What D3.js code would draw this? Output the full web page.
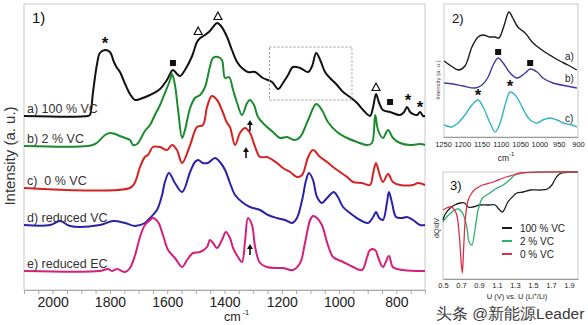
<!DOCTYPE html>
<html><head><meta charset="utf-8">
<script src="https://cdn.jsdelivr.net/npm/d3@7"></script>
<style>body{margin:0;background:#fff}svg{display:block}text{font-family:"Liberation Sans",Arial,sans-serif}</style>
</head><body><svg id="c" width="588" height="325"></svg>
<script>
// ---------- Panel 1: IR spectra (wavenumber cm-1, intensity a.u. incl. offset) ----------
const mainTicks = [2000, 1800, 1600, 1400, 1200, 1000, 800];
const mainLabels = ["a) 100 % VC", "b) 2 % VC", "c)  0 % VC", "d) reduced VC", "e) reduced EC"];
const spectrumA = [[2100,174],[1877,174],[1870,175],[1859,198],[1845,226],[1835,237],[1817,240],[1800,238],[1786,228],[1775,222],[1765,218],[1747,206],[1730,196],[1712,190],[1695,191],[1660,195],[1625,201],[1601,210],[1580,220],[1566,216],[1555,214],[1538,220],[1513,234],[1496,248],[1485,252],[1468,255],[1451,259],[1437,264],[1426,267],[1412,264],[1391,253],[1374,240],[1356,228],[1339,222],[1318,218],[1293,218],[1266,212],[1234,208],[1213,201],[1196,207],[1178,215],[1161,223],[1136,222],[1108,218],[1094,224],[1080,237],[1066,230],[1049,218],[1032,212],[1007,205],[986,198],[962,193],[937,187],[916,180],[892,174],[881,183],[871,196],[860,187],[847,180],[822,178],[787,175],[773,178],[763,183],[752,178],[742,176],[728,175],[717,178],[707,174],[700,174]];
const spectrumB = [[2100,144],[1877,144],[1852,146],[1835,150],[1817,155],[1800,157],[1782,156],[1765,154],[1747,152],[1730,150],[1719,145],[1705,146],[1695,150],[1678,159],[1660,165],[1643,175],[1625,185],[1608,197],[1590,210],[1583,216],[1573,205],[1562,180],[1548,152],[1538,160],[1520,182],[1503,192],[1485,195],[1468,203],[1451,223],[1440,232],[1423,233],[1409,230],[1398,212],[1384,213],[1370,200],[1356,187],[1339,175],[1321,187],[1311,190],[1297,185],[1283,173],[1259,165],[1231,158],[1206,152],[1182,153],[1154,150],[1136,153],[1108,170],[1080,186],[1060,180],[1039,168],[1007,158],[972,152],[937,148],[902,145],[885,147],[874,175],[864,160],[847,152],[829,160],[812,152],[787,147],[752,145],[717,146],[700,145]];
const spectrumC = [[2100,102],[1730,102],[1712,108],[1695,123],[1678,133],[1667,135],[1650,143],[1625,143],[1601,140],[1583,145],[1566,140],[1548,127],[1520,145],[1496,163],[1475,165],[1461,183],[1444,194],[1426,190],[1409,180],[1391,167],[1381,163],[1363,145],[1346,157],[1328,162],[1311,157],[1293,143],[1276,133],[1252,133],[1217,127],[1196,122],[1171,118],[1147,113],[1129,115],[1108,133],[1091,140],[1066,133],[1042,128],[1021,123],[997,118],[972,113],[951,108],[920,107],[892,105],[881,117],[871,127],[860,117],[847,108],[829,116],[812,108],[787,105],[742,105],[724,107],[700,105]];
const spectrumD = [[2100,65],[2009,65],[1974,69],[1939,64],[1835,65],[1789,69],[1747,67],[1712,64],[1678,67],[1660,72],[1636,80],[1618,95],[1608,108],[1594,117],[1573,107],[1548,98],[1520,118],[1503,128],[1492,130],[1475,127],[1458,127],[1433,132],[1416,128],[1398,120],[1381,107],[1363,95],[1339,88],[1311,83],[1276,80],[1248,75],[1217,72],[1189,70],[1164,67],[1147,72],[1129,90],[1115,110],[1105,117],[1091,110],[1077,93],[1060,87],[1042,92],[1025,97],[1018,98],[1004,93],[986,83],[962,77],[927,70],[899,67],[881,73],[871,78],[860,72],[847,70],[833,87],[826,98],[815,87],[801,73],[780,72],[763,73],[742,70],[717,65],[700,65]];
const spectrumE = [[2100,19],[1835,19],[1807,21],[1793,19],[1775,21],[1747,18],[1730,22],[1712,35],[1695,53],[1678,65],[1660,70],[1650,72],[1632,68],[1615,55],[1597,40],[1573,32],[1548,23],[1531,30],[1510,37],[1485,38],[1461,43],[1451,50],[1440,47],[1426,42],[1409,50],[1395,58],[1381,52],[1370,42],[1353,33],[1339,28],[1328,50],[1318,72],[1304,65],[1293,43],[1276,27],[1252,23],[1217,22],[1196,22],[1161,20],[1136,27],[1119,47],[1101,70],[1091,74],[1077,72],[1060,65],[1039,45],[1021,33],[986,28],[951,23],[920,20],[902,33],[892,40],[874,40],[864,33],[847,23],[826,34],[812,23],[777,20],[700,19]];
// peak markers on panel 1: [wavenumber, intensity, symbol]
const mainMarks = [[1817,247,"*"],[1580,227,"sq"],[1492,258,"tri"],[1423,273,"tri"],[871,202,"tri"],[822,188,"sq"],[759,190,"*"],[717,183,"*"]];
const mainArrows = [[1311,170],[1325,143],[1311,46]];

// ---------- Panel 2: zoom 1250-900 cm-1 ----------
const zoomTicks = [1250,1200,1150,1100,1050,1000,950,900];
const zoomLabels = ["a)","b)","c)"];
const zoomA = [[1247,76],[1229,71],[1209,67],[1193,71],[1175,90],[1159,100],[1146,102],[1128,100],[1115,100],[1105,99],[1092,111],[1079,125],[1069,119],[1056,110],[1037,104],[1019,95],[1004,90],[986,85],[965,80],[947,76],[926,72],[903,67]];
const zoomB = [[1247,54],[1224,53],[1198,51],[1167,49],[1149,52],[1133,60],[1120,72],[1107,79],[1094,74],[1076,64],[1058,59],[1037,64],[1024,68],[1006,65],[991,59],[965,54],[929,51],[903,49]];
const zoomC = [[1247,12],[1227,10],[1211,14],[1193,22],[1175,32],[1159,37],[1146,30],[1128,14],[1115,5],[1102,14],[1089,32],[1076,45],[1063,42],[1050,34],[1037,24],[1024,17],[1006,14],[991,17],[973,19],[954,17],[939,14],[916,12],[903,10]];
const zoomMarks = [[1107,85,"sq"],[1024,74,"sq"],[1159,42,"*"],[1076,51,"*"]];

// ---------- Panel 3: dQ/dV vs U ----------
const voltTicks = [0.5,0.7,0.9,1.1,1.3,1.5,1.7,1.9];
const dqLegend = ["100 % VC","2 % VC","0 % VC"];
const dq100 = [[0.5,-0.48],[0.52,-0.43],[0.58,-0.36],[0.63,-0.33],[0.69,-0.31],[0.74,-0.31],[0.78,-0.35],[0.83,-0.35],[0.91,-0.33],[1.0,-0.33],[1.08,-0.33],[1.11,-0.36],[1.16,-0.40],[1.19,-0.36],[1.22,-0.30],[1.27,-0.25],[1.32,-0.21],[1.39,-0.20],[1.47,-0.18],[1.58,-0.18],[1.66,-0.17],[1.71,-0.13],[1.74,-0.08],[1.78,-0.03],[1.82,-0.01],[2.0,0]];
const dq2 = [[0.5,-0.50],[0.54,-0.45],[0.60,-0.40],[0.63,-0.38],[0.67,-0.37],[0.71,-0.40],[0.74,-0.46],[0.77,-0.58],[0.79,-0.70],[0.82,-0.73],[0.86,-0.55],[0.89,-0.38],[0.94,-0.26],[1.02,-0.21],[1.10,-0.16],[1.17,-0.13],[1.24,-0.08],[1.30,-0.03],[1.39,-0.01],[2.0,0]];
const dq0 = [[0.5,-0.38],[0.54,-0.36],[0.58,-0.35],[0.61,-0.36],[0.65,-0.42],[0.68,-0.62],[0.70,-0.88],[0.715,-1.01],[0.73,-0.75],[0.75,-0.45],[0.78,-0.28],[0.82,-0.21],[0.86,-0.17],[0.94,-0.13],[1.06,-0.10],[1.17,-0.06],[1.28,-0.03],[1.36,-0.01],[2.0,0]];

const svg = d3.select("#c");
const frameCol = "#c9c9c9";
const curve = d3.curveCatmullRom.alpha(0.5);

function marker(g, x, y, sym, size){
  if(sym==="sq") g.append("rect").attr("x",x-size/2).attr("y",y-size/2).attr("width",size).attr("height",size).attr("fill","#111");
  else if(sym==="tri") g.append("path").attr("d",`M${x},${y-5}L${x+4},${y+2.5}L${x-4},${y+2.5}Z`).attr("fill","none").attr("stroke","#111").attr("stroke-width",1.2);
  else g.append("text").attr("x",x).attr("y",y+size*0.95).attr("text-anchor","middle").attr("font-size",size*2.8).attr("font-weight","bold").attr("fill","#111").text("*");
}

// ===== Panel 1 =====
const x1 = d3.scaleLinear().domain([2100,700]).range([24,425]);
const y1 = d3.scaleLinear().domain([0,286]).range([290,4]);
const g1 = svg.append("g");
g1.append("rect").attr("x",24).attr("y",4).attr("width",401).attr("height",286).attr("fill","none").attr("stroke",frameCol);
const ax1 = g1.append("g").attr("transform","translate(0,290)")
  .call(d3.axisBottom(x1).tickValues(d3.range(700,2101,50)).tickSize(4).tickPadding(3)
  .tickFormat(d=> mainTicks.includes(d)? d : ""));
ax1.select(".domain").attr("stroke","#aaa");
ax1.selectAll(".tick line").attr("stroke","#aaa");
ax1.selectAll(".tick text").attr("font-size",14).attr("fill","#222").attr("font-family","Liberation Sans, Arial");
const line1 = d3.line().x(d=>x1(d[0])).y(d=>y1(d[1])).curve(curve);
const series1 = [spectrumA,spectrumB,spectrumC,spectrumD,spectrumE];
const cols1 = ["#111111","#1e8a2e","#d42322","#2a22a6","#d41f7c"];
series1.forEach((s,i)=>{
  g1.append("path").attr("d",line1(s)).attr("fill","none").attr("stroke",cols1[i]).attr("stroke-width",2).attr("stroke-linejoin","round");
  g1.append("text").attr("x",27).attr("y",y1(s[0][1])-3).attr("font-size",12.5).attr("fill","#333").style("white-space","pre").text(mainLabels[i]);
});
mainMarks.forEach(m=>marker(g1,x1(m[0]),y1(m[1]),m[2], 6));
mainArrows.forEach(a=>{
  const ax=x1(a[0]), ay=y1(a[1]);
  g1.append("line").attr("x1",ax).attr("x2",ax).attr("y1",ay+11).attr("y2",ay+3).attr("stroke","#111").attr("stroke-width",1.6);
  g1.append("path").attr("d",`M${ax},${ay}L${ax+3},${ay+5}L${ax-3},${ay+5}Z`).attr("fill","#111");
});
// dashed zoom box
g1.append("rect").attr("x",x1(1243)).attr("y",y1(243)).attr("width",x1(955)-x1(1243)).attr("height",y1(190)-y1(243))
  .attr("fill","none").attr("stroke","#888").attr("stroke-dasharray","2,2").attr("stroke-width",0.9);
g1.append("text").attr("x",32).attr("y",23).attr("font-size",15).attr("fill","#111").text("1)");
g1.append("text").attr("transform","translate(15,156) rotate(-90)").attr("text-anchor","middle").attr("font-size",15).attr("fill","#333").text("Intensity (a. u.)");
const cm1 = g1.append("text").attr("x",224).attr("y",321).attr("font-size",12.5).attr("fill","#222");
cm1.append("tspan").text("cm");
cm1.append("tspan").attr("dy",-6).attr("dx",1.5).attr("font-size",8).text("-1");

// ===== Panel 2 =====
const x2 = d3.scaleLinear().domain([1250,900]).range([443,578]);
const y2 = d3.scaleLinear().domain([0,133]).range([137,4]);
const g2 = svg.append("g");
g2.append("rect").attr("x",444).attr("y",4).attr("width",134).attr("height",133).attr("fill","none").attr("stroke",frameCol);
const ax2 = g2.append("g").attr("transform","translate(0,137)").call(d3.axisBottom(x2).tickValues(zoomTicks).tickSize(0).tickPadding(5).tickFormat(d3.format("d")));
ax2.select(".domain").attr("stroke","#999");
ax2.selectAll(".tick text").attr("font-size",7.5).attr("fill","#222").attr("font-family","Liberation Sans, Arial");
const line2 = d3.line().x(d=>x2(d[0])).y(d=>y2(d[1])).curve(curve);
const series2 = [zoomA,zoomB,zoomC];
const cols2 = ["#1a1a1a","#3c3a9e","#33b3c6"];
series2.forEach((s,i)=>{
  g2.append("path").attr("d",line2(s)).attr("fill","none").attr("stroke",cols2[i]).attr("stroke-width",1.4);
});
[[60,"a)"],[82,"b)"],[122,"c)"]].forEach((l,i)=>g2.append("text").attr("x",565).attr("y",l[0]).attr("font-size",10).attr("fill","#222").text(zoomLabels[i]));
zoomMarks.forEach(m=>marker(g2,x2(m[0]),y2(m[1]),m[2], 6));
g2.append("text").attr("x",452).attr("y",23).attr("font-size",13).attr("fill","#111").text("2)");
g2.append("text").attr("transform","translate(440,80) rotate(-90)").attr("text-anchor","middle").attr("font-size",6).attr("fill","#444").text("Intensity (a. u.)");
const cm2 = g2.append("text").attr("x",506).attr("y",161).attr("text-anchor","middle").attr("font-size",8.5).attr("fill","#222");
cm2.append("tspan").text("cm");
cm2.append("tspan").attr("dy",-5).attr("font-size",6).text("-1");

// ===== Panel 3 =====
const x3 = d3.scaleLinear().domain([0.5,2.0]).range([443,578]);
const y3 = d3.scaleLinear().domain([-1.07,0]).range([279,172]);
const g3 = svg.append("g");
g3.append("rect").attr("x",443).attr("y",172).attr("width",135).attr("height",107).attr("fill","none").attr("stroke",frameCol);
const ax3 = g3.append("g").attr("transform","translate(0,279)").call(d3.axisBottom(x3).tickValues(voltTicks).tickSize(0).tickPadding(4).tickFormat(d3.format(".1f")));
ax3.select(".domain").attr("stroke","#999");
ax3.selectAll(".tick text").attr("font-size",7.5).attr("fill","#222").attr("font-family","Liberation Sans, Arial");
const line3 = d3.line().x(d=>x3(d[0])).y(d=>y3(d[1])).curve(curve);
const series3 = [dq100,dq2,dq0];
const cols3 = ["#1a1a1a","#2fae6e","#de2f48"];
series3.forEach((s,i)=>{
  g3.append("path").attr("d",line3(s)).attr("fill","none").attr("stroke",cols3[i]).attr("stroke-width",1.3);
});
dqLegend.forEach((t,i)=>{
  const ly = 228 + i*13;
  g3.append("line").attr("x1",502).attr("x2",512).attr("y1",ly).attr("y2",ly).attr("stroke",cols3[i]).attr("stroke-width",2);
  g3.append("text").attr("x",520).attr("y",ly+3.5).attr("font-size",10).attr("fill","#222").text(t);
});
g3.append("text").attr("x",450).attr("y",190).attr("font-size",13).attr("fill","#111").text("3)");
g3.append("text").attr("transform","translate(439,228) rotate(-90)").attr("text-anchor","middle").attr("font-size",7).attr("fill","#333").text("dQ/dV");
const ul = g3.append("text").attr("x",517).attr("y",299).attr("text-anchor","middle").attr("font-size",7.5).attr("fill","#222");
ul.append("tspan").text("U (V) vs. U (Li");
ul.append("tspan").attr("dy",-3).attr("font-size",5).text("+");
ul.append("tspan").attr("dy",3).text("/Li)");

// watermark
svg.append("text").attr("x",436).attr("y",319).attr("font-size",15.5).attr("font-family","Noto Sans CJK SC").attr("fill","#3a3a3a")
  .attr("stroke","#fff").attr("stroke-width",2.5).attr("paint-order","stroke").text("头条 @新能源Leader");
</script></body></html>
